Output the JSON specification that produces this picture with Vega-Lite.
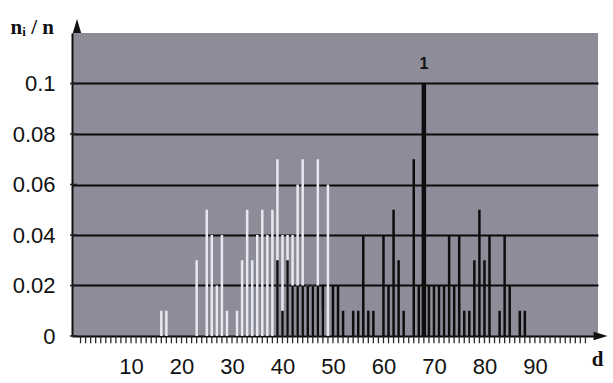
{
  "$schema": "https://vega.github.io/schema/vega-lite/v6.json",
  "width": 526,
  "height": 303,
  "autosize": {"type": "none"},
  "padding": {"left": 72, "top": 33, "right": 15, "bottom": 47},
  "background": "white",
  "config": {"view": {"fill": "#8c8d99", "stroke": null}, "font": "Liberation Sans"},
  "datasets": {
    "bars": [
      {"d": 16, "v": 0.01, "s": "light"},
      {"d": 17, "v": 0.01, "s": "light"},
      {"d": 23, "v": 0.03, "s": "light"},
      {"d": 25, "v": 0.05, "s": "light"},
      {"d": 26, "v": 0.04, "s": "light"},
      {"d": 27, "v": 0.02, "s": "light"},
      {"d": 28, "v": 0.04, "s": "light"},
      {"d": 29, "v": 0.01, "s": "light"},
      {"d": 31, "v": 0.01, "s": "light"},
      {"d": 32, "v": 0.03, "s": "light"},
      {"d": 33, "v": 0.05, "s": "light"},
      {"d": 34, "v": 0.03, "s": "light"},
      {"d": 35, "v": 0.04, "s": "light"},
      {"d": 36, "v": 0.05, "s": "light"},
      {"d": 37, "v": 0.04, "s": "light"},
      {"d": 38, "v": 0.05, "s": "light"},
      {"d": 39, "v": 0.07, "s": "light"},
      {"d": 40, "v": 0.04, "s": "light"},
      {"d": 41, "v": 0.04, "s": "light"},
      {"d": 42, "v": 0.04, "s": "light"},
      {"d": 43, "v": 0.06, "s": "light"},
      {"d": 44, "v": 0.07, "s": "light"},
      {"d": 45, "v": 0.02, "s": "light"},
      {"d": 46, "v": 0.02, "s": "light"},
      {"d": 47, "v": 0.07, "s": "light"},
      {"d": 48, "v": 0.01, "s": "light"},
      {"d": 49, "v": 0.06, "s": "light"},
      {"d": 39, "v": 0.03, "s": "dark"},
      {"d": 40, "v": 0.01, "s": "dark"},
      {"d": 41, "v": 0.03, "s": "dark"},
      {"d": 42, "v": 0.02, "s": "dark"},
      {"d": 43, "v": 0.02, "s": "dark"},
      {"d": 44, "v": 0.02, "s": "dark"},
      {"d": 45, "v": 0.02, "s": "dark"},
      {"d": 46, "v": 0.02, "s": "dark"},
      {"d": 47, "v": 0.02, "s": "dark"},
      {"d": 48, "v": 0.02, "s": "dark"},
      {"d": 50, "v": 0.02, "s": "dark"},
      {"d": 51, "v": 0.02, "s": "dark"},
      {"d": 52, "v": 0.01, "s": "dark"},
      {"d": 54, "v": 0.01, "s": "dark"},
      {"d": 55, "v": 0.01, "s": "dark"},
      {"d": 56, "v": 0.04, "s": "dark"},
      {"d": 57, "v": 0.01, "s": "dark"},
      {"d": 58, "v": 0.01, "s": "dark"},
      {"d": 60, "v": 0.04, "s": "dark"},
      {"d": 61, "v": 0.02, "s": "dark"},
      {"d": 62, "v": 0.05, "s": "dark"},
      {"d": 63, "v": 0.03, "s": "dark"},
      {"d": 64, "v": 0.01, "s": "dark"},
      {"d": 66, "v": 0.07, "s": "dark"},
      {"d": 67, "v": 0.02, "s": "dark"},
      {"d": 68, "v": 0.1, "s": "dark", "note": "1"},
      {"d": 69, "v": 0.02, "s": "dark"},
      {"d": 70, "v": 0.02, "s": "dark"},
      {"d": 71, "v": 0.02, "s": "dark"},
      {"d": 72, "v": 0.02, "s": "dark"},
      {"d": 73, "v": 0.04, "s": "dark"},
      {"d": 74, "v": 0.02, "s": "dark"},
      {"d": 75, "v": 0.04, "s": "dark"},
      {"d": 76, "v": 0.01, "s": "dark"},
      {"d": 77, "v": 0.01, "s": "dark"},
      {"d": 78, "v": 0.03, "s": "dark"},
      {"d": 79, "v": 0.05, "s": "dark"},
      {"d": 80, "v": 0.03, "s": "dark"},
      {"d": 81, "v": 0.04, "s": "dark"},
      {"d": 83, "v": 0.01, "s": "dark"},
      {"d": 84, "v": 0.04, "s": "dark"},
      {"d": 85, "v": 0.02, "s": "dark"},
      {"d": 87, "v": 0.01, "s": "dark"},
      {"d": 88, "v": 0.01, "s": "dark"}
    ],
    "arrows": [
      {"d": -0.7, "v": 0.1228, "dir": "up"},
      {"d": 103.0, "v": 0, "dir": "right"}
    ],
    "xticks": [
      {"t": 0}, {"t": 1}, {"t": 2}, {"t": 3}, {"t": 4}, {"t": 5}, {"t": 6}, {"t": 7}, {"t": 8}, {"t": 9},
      {"t": 10}, {"t": 11}, {"t": 12}, {"t": 13}, {"t": 14}, {"t": 15}, {"t": 16}, {"t": 17}, {"t": 18}, {"t": 19},
      {"t": 20}, {"t": 21}, {"t": 22}, {"t": 23}, {"t": 24}, {"t": 25}, {"t": 26}, {"t": 27}, {"t": 28}, {"t": 29},
      {"t": 30}, {"t": 31}, {"t": 32}, {"t": 33}, {"t": 34}, {"t": 35}, {"t": 36}, {"t": 37}, {"t": 38}, {"t": 39},
      {"t": 40}, {"t": 41}, {"t": 42}, {"t": 43}, {"t": 44}, {"t": 45}, {"t": 46}, {"t": 47}, {"t": 48}, {"t": 49},
      {"t": 50}, {"t": 51}, {"t": 52}, {"t": 53}, {"t": 54}, {"t": 55}, {"t": 56}, {"t": 57}, {"t": 58}, {"t": 59},
      {"t": 60}, {"t": 61}, {"t": 62}, {"t": 63}, {"t": 64}, {"t": 65}, {"t": 66}, {"t": 67}, {"t": 68}, {"t": 69},
      {"t": 70}, {"t": 71}, {"t": 72}, {"t": 73}, {"t": 74}, {"t": 75}, {"t": 76}, {"t": 77}, {"t": 78}, {"t": 79},
      {"t": 80}, {"t": 81}, {"t": 82}, {"t": 83}, {"t": 84}, {"t": 85}, {"t": 86}, {"t": 87}, {"t": 88}, {"t": 89},
      {"t": 90}, {"t": 91}, {"t": 92}, {"t": 93}, {"t": 94}, {"t": 95}, {"t": 96}, {"t": 97}, {"t": 98}, {"t": 99},
      {"t": 100}
    ],
    "yticks": [
      {"u": 0}, {"u": 0.02}, {"u": 0.04}, {"u": 0.06}, {"u": 0.08}, {"u": 0.1}
    ]
  },
  "resolve": {"axis": {"x": "independent"}},
  "layer": [
    {
      "data": {"name": "bars"},
      "mark": {"type": "bar"},
      "encoding": {
        "x": {
          "field": "d",
          "type": "quantitative",
          "scale": {"domain": [-0.7, 101.5], "nice": false, "zero": false},
          "axis": {
            "orient": "bottom",
            "values": [10, 20, 30, 40, 50, 60, 70, 80, 90],
            "tickCount": 20,
            "format": "d",
            "labelFontSize": 22,
            "labelColor": "#111111",
            "labelPadding": 20,
            "labelFlush": false,
            "labelOverlap": false,
            "ticks": false,
            "domain": false,
            "grid": false,
            "title": "d",
            "titleFont": "Liberation Serif",
            "titleFontSize": 21,
            "titleFontWeight": "bold",
            "titleColor": "#111111",
            "titleX": 525,
            "titleY": 29,
            "titleAlign": "center",
            "titleBaseline": "alphabetic"
          }
        },
        "y": {
          "field": "v",
          "type": "quantitative",
          "stack": null,
          "scale": {"domain": [0, 0.12], "nice": false},
          "axis": {
            "values": [0, 0.02, 0.04, 0.06, 0.08, 0.1],
            "tickCount": 10,
            "format": "~g",
            "grid": true,
            "gridColor": "#0a0a0a",
            "gridWidth": 2,
            "gridOpacity": 1,
            "ticks": false,
            "domainColor": "#111111",
            "domainWidth": 2,
            "labelFontSize": 22,
            "labelPadding": 17,
            "labelColor": "#111111",
            "title": "nᵢ / n",
            "titleAngle": 0,
            "titleX": -62,
            "titleY": 0,
            "titleAlign": "left",
            "titleBaseline": "alphabetic",
            "titleFont": "Liberation Serif",
            "titleFontSize": 21,
            "titleFontWeight": "bold",
            "titleColor": "#111111"
          }
        },
        "color": {
          "field": "s",
          "type": "nominal",
          "scale": {"domain": ["light", "dark"], "range": ["#e8e8f0", "#0d0d0d"]},
          "legend": null
        },
        "size": {"condition": {"test": "datum.v >= 0.1", "value": 4.5}, "value": 2.5}
      }
    },
    {
      "data": {"name": "bars"},
      "transform": [{"filter": "datum.note"}],
      "mark": {"type": "text", "dy": -20, "fontSize": 16, "fontWeight": "bold", "color": "#111111"},
      "encoding": {
        "x": {"field": "d", "type": "quantitative", "axis": null},
        "y": {"field": "v", "type": "quantitative"},
        "text": {"field": "note"}
      }
    },
    {
      "data": {"name": "xticks"},
      "mark": {"type": "tick", "orient": "vertical", "color": "#2a2a2a", "size": 7, "thickness": 1.3, "opacity": 1, "clip": false},
      "encoding": {
        "x": {"field": "t", "type": "quantitative", "axis": null},
        "y": {"datum": -0.0015, "type": "quantitative"}
      }
    },
    {
      "data": {"name": "yticks"},
      "mark": {"type": "tick", "orient": "horizontal", "color": "#222222", "size": 7, "thickness": 1.6, "opacity": 1, "clip": false},
      "encoding": {
        "x": {"datum": -1.38, "type": "quantitative", "axis": null},
        "y": {"field": "u", "type": "quantitative"}
      }
    },
    {
      "data": {"name": "arrows"},
      "mark": {"type": "point", "filled": true, "color": "#111111", "opacity": 1},
      "encoding": {
        "x": {"field": "d", "type": "quantitative", "axis": null},
        "y": {"field": "v", "type": "quantitative"},
        "shape": {
          "field": "dir",
          "type": "nominal",
          "scale": {"domain": ["up", "right"], "range": ["M-0.6,1L0,-1L0.6,1Z", "M-1,-0.6L1,0L-1,0.6Z"]},
          "legend": null
        },
        "size": {"value": 196}
      }
    }
  ]
}
